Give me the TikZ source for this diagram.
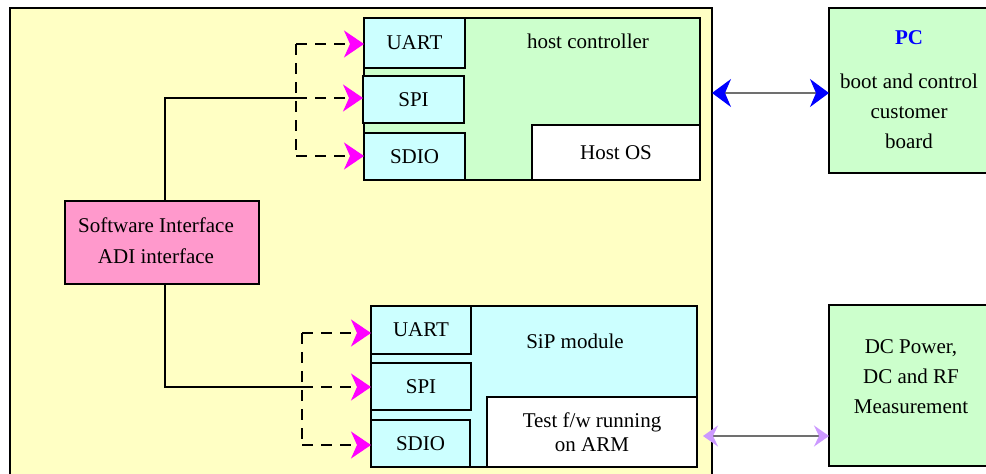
\documentclass[tikz,border=0pt]{standalone}
\usepackage{fontspec}
\setmainfont{Liberation Serif}
\usetikzlibrary{arrows.meta}
\definecolor{bgyellow}{HTML}{FFFFC4}
\definecolor{hgreen}{HTML}{CCFFCC}
\definecolor{scyan}{HTML}{CCFFFF}
\definecolor{ipink}{HTML}{FF99CC}
\definecolor{amag}{HTML}{FF00FF}
\definecolor{ablue}{HTML}{0000FF}
\definecolor{alav}{HTML}{CC99FF}
\definecolor{lgray}{HTML}{707070}
\begin{document}
\begin{tikzpicture}[x=1pt,y=-1pt,
  font=\fontsize{21}{25}\selectfont,
  box/.style={draw=black, line width=1.3pt, anchor=north west, inner sep=0pt, outer sep=0pt, align=center},
  txt/.style={inner sep=0pt, align=center},
  wire/.style={draw=black, line width=1.6pt},
  dline/.style={draw=black, line width=1.6pt, dash pattern=on 11pt off 8pt},
  darrow/.style={dline, -{Stealth[length=20pt,width=27pt,inset=6pt,color=amag]}},
  pcarrow/.style={draw=lgray, line width=1.5pt, {Stealth[length=19pt,width=28pt,inset=6pt,color=ablue]}-{Stealth[length=19pt,width=28pt,inset=6pt,color=ablue]}},
  dcarrow/.style={draw=lgray, line width=1.5pt, {Stealth[length=15pt,width=21pt,inset=5pt,color=alav]}-{Stealth[length=15pt,width=21pt,inset=5pt,color=alav]}}
]
\useasboundingbox (0,0) rectangle (986,474);
\clip (0,0) rectangle (986,474);
\fill[white] (0,0) rectangle (986,474);

% main board
\node[box, fill=bgyellow, minimum width=702pt, minimum height=480pt] (board) at (10,8) {};

% host controller
\node[box, fill=hgreen, minimum width=336pt, minimum height=162pt] (host) at (364,18) {};
\node[txt] (hosttitle) at (588,41) {host controller};
\node[box, fill=scyan, minimum width=101pt, minimum height=50pt] (huart) at (364,18) {UART};
\node[box, fill=scyan, minimum width=101pt, minimum height=47pt] (hspi) at (363,76) {SPI};
\node[box, fill=scyan, minimum width=101pt, minimum height=47pt] (hsdio) at (364,133) {SDIO};
\node[box, fill=white, minimum width=168pt, minimum height=55pt] (hostos) at (532,125) {Host OS};

% SiP module
\node[box, fill=scyan, minimum width=326pt, minimum height=161pt] (sip) at (371,306) {};
\node[txt] (siptitle) at (575,341) {SiP module};
\node[box, fill=scyan, minimum width=100pt, minimum height=48pt] (suart) at (371,306) {UART};
\node[box, fill=scyan, minimum width=100pt, minimum height=47pt] (sspi) at (371,363) {SPI};
\node[box, fill=scyan, minimum width=99pt, minimum height=47pt] (ssdio) at (371,420) {SDIO};
\node[box, fill=white, minimum width=210pt, minimum height=70pt, font=\fontsize{21}{24}\selectfont] (testfw) at (487,397) {Test f/w running\\on ARM};

% software interface
\node[box, fill=ipink, minimum width=194pt, minimum height=83pt] (sw) at (65,201) {};
\node[txt, font=\fontsize{21}{31}\selectfont] (swtext) at (156,241) {Software Interface\\ADI interface};

% PC box
\node[box, fill=hgreen, minimum width=162pt, minimum height=165pt] (pc) at (829,8) {};
\node[txt, font=\fontsize{21}{30}\selectfont] (pctext) at (909,90) {{\color{ablue}\bfseries PC}\\[14pt]boot and control\\customer\\board};

% DC box
\node[box, fill=hgreen, minimum width=162pt, minimum height=161pt] (dc) at (829,305) {};
\node[txt, font=\fontsize{21}{30}\selectfont] (dctext) at (911,377) {DC Power,\\DC and RF\\Measurement};

% host connectors
\coordinate (hsplit) at (296,98);
\draw[wire] ([xshift=3pt]sw.north) |- (hsplit);
\draw[dline] (hsplit |- 0,44) -- (hsplit |- 0,156);
\draw[darrow] (hsplit |- 0,44) -- (huart.west |- 0,44);
\draw[darrow] (hsplit) -- (hspi.west |- hsplit);
\draw[darrow] (hsplit |- 0,156) -- (hsdio.west |- 0,156);

% SiP connectors
\coordinate (ssplit) at (302,387);
\draw[wire] ([xshift=3pt]sw.south) |- (ssplit);
\draw[dline] (ssplit |- 0,333) -- (ssplit |- 0,445);
\draw[darrow] (ssplit |- 0,333) -- (suart.west |- 0,333);
\draw[darrow] (ssplit) -- (sspi.west |- ssplit);
\draw[darrow] (ssplit |- 0,445) -- (ssdio.west |- 0,445);

% external connectors
\draw[pcarrow] (board.east |- 0,93) -- (pc.west |- 0,93);
\coordinate (dcstart) at (703,436);
\draw[dcarrow] (dcstart) -- (dc.west |- dcstart);
\end{tikzpicture}
\end{document}
